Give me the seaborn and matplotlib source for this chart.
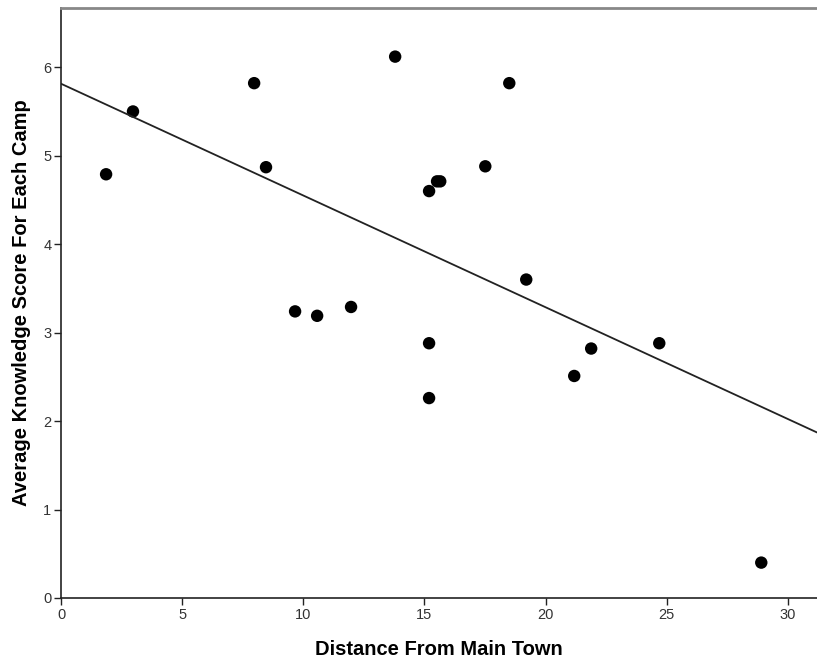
import pandas as pd
import matplotlib.pyplot as plt
import seaborn as sns

# data
distance = [1.86, 2.97, 7.97, 8.46, 9.66, 10.57, 11.97, 13.79, 15.19, 15.52,
            15.65, 15.19, 15.19, 17.51, 18.50, 19.20, 21.18, 21.88, 24.69, 28.90]
knowledge = [4.79, 5.50, 5.82, 4.87, 3.24, 3.19, 3.29, 6.12, 4.60, 4.71,
             4.71, 2.88, 2.26, 4.88, 5.82, 3.60, 2.51, 2.82, 2.88, 0.40]

df = pd.DataFrame({"distance": distance, "knowledge": knowledge})

sns.set_theme(style="ticks")
plt.rcParams["font.family"] = ["Liberation Sans", "DejaVu Sans"]

fig = plt.figure(figsize=(8.17, 6.64), dpi=100)
ax = fig.add_axes([0.0747, 0.0994, 0.9253, 0.8886])

# limits first so the fit line spans the whole axis
ax.set_xlim(0, 31.2)
ax.set_ylim(0, 6.67)

sns.regplot(data=df, x="distance", y="knowledge", ax=ax, ci=None, truncate=False,
            scatter_kws={"s": 80, "color": "black", "edgecolor": "none", "alpha": 1},
            line_kws={"color": "#222222", "linewidth": 1.3})

ax.set_xlim(0, 31.2)
ax.set_ylim(0, 6.67)
ax.set_xticks([0, 5, 10, 15, 20, 25, 30])
ax.set_yticks([0, 1, 2, 3, 4, 5, 6])

ax.spines["right"].set_visible(False)
ax.spines["top"].set_color("#888888")
ax.spines["top"].set_linewidth(2)
for s in ["left", "bottom"]:
    ax.spines[s].set_color("#222222")
    ax.spines[s].set_linewidth(1.2)
ax.tick_params(axis="both", direction="out", length=5, width=1, color="#222222",
               labelsize=10.5, labelcolor="#333333", pad=2)

ax.set_xlabel("Distance From Main Town", fontsize=14.5, fontweight="bold",
              color="black", labelpad=13)
ax.set_ylabel("Average Knowledge Score For Each Camp", fontsize=14.5, fontweight="bold",
              color="black", labelpad=9)

fig.savefig("out.png", dpi=100)
